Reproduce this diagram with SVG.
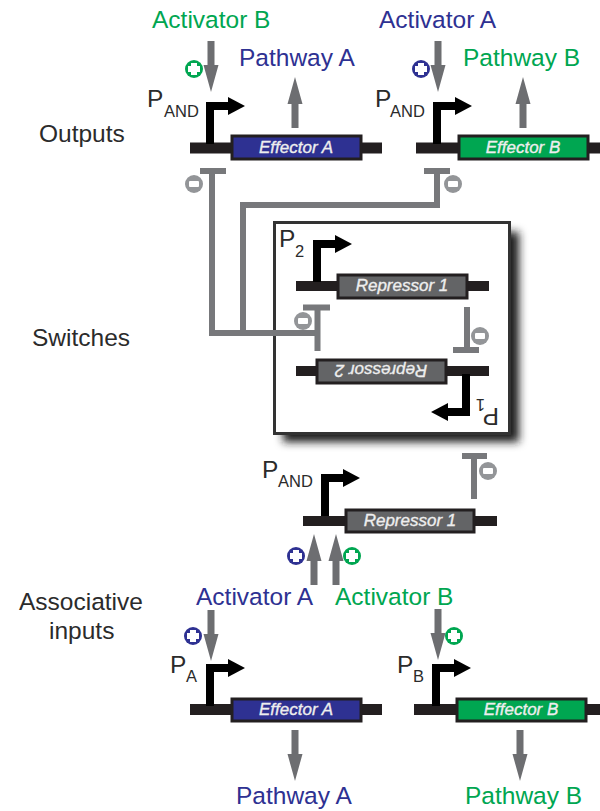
<svg xmlns="http://www.w3.org/2000/svg" width="600" height="811" viewBox="0 0 600 811">
<style>
text{font-family:"Liberation Sans",Arial,sans-serif}
.lab{font-size:24.500px;fill:#2b2b2b}
.sub{font-size:16.500px;fill:#2b2b2b}
.blue{font-size:24.500px;fill:#2e3192}
.green{font-size:24.500px;fill:#00a651}
.gt{font-size:17px;font-style:italic;fill:#eee;stroke:#eee;stroke-width:.35;text-anchor:middle}
.bb{fill:#231f20}
.b{fill:#2e3192;stroke:#231f20;stroke-width:3}
.g{fill:#00a651;stroke:#231f20;stroke-width:3}
.r{fill:#636466;stroke:#231f20;stroke-width:3}
.inh{fill:none;stroke:#77787b;stroke-width:6}
.arr{fill:#6d6e71}
.prom{fill:none;stroke:#000;stroke-width:8}
.fg{fill:#00a651}.fb{fill:#2e3192}
</style>
<defs>
<filter id="sh" x="-20%" y="-20%" width="140%" height="140%"><feGaussianBlur stdDeviation="4"/></filter>
<g id="promoter"><path class="prom" d="M0 0V-38H20"/><path d="M18-47L35-38L18-29Z" fill="#000"/></g>
<path id="down" class="arr" d="M-3.500 0H3.500V24H7.500L0 51L-7.500 24H-3.500Z"/>
<path id="plus" fill="#fff" d="M-3-6H3V-3H6V3H3V6H-3V3H-6V-3H-3Z"/>
<g id="minus"><circle r="9" fill="#939598"/><rect x="-5" y="-3" width="10" height="6" rx="1" fill="#fff"/></g>
</defs>
<g id="switch-box">
<rect x="283" y="232" width="236" height="210" fill="#1a1a1a" filter="url(#sh)"/>
<rect x="274.500" y="222.500" width="235" height="211" fill="#fff" stroke="#333" stroke-width="3"/>
</g>
<g id="connectors">
<path class="inh" d="M200 171H226M212 171V333H318M243 333V205H437V171M424 171H450"/>
<path class="inh" d="M303 307.500H330M317.500 308V351"/>
<path class="inh" d="M467 307V350M453 350H479"/>
<path class="inh" d="M462 456H487M474 456V499"/>
<use href="#down" transform="translate(211,41)"/>
<use href="#down" transform="translate(295,128) scale(1,-1)"/>
<use href="#down" transform="translate(438,41)"/>
<use href="#down" transform="translate(523,128) scale(1,-1)"/>
<use href="#down" transform="translate(314,585) scale(1,-1)"/>
<use href="#down" transform="translate(336,585) scale(1,-1)"/>
<use href="#down" transform="translate(211,610)"/>
<use href="#down" transform="translate(438,609)"/>
<use href="#down" transform="translate(295,730)"/>
<use href="#down" transform="translate(520,730)"/>
</g>
<g id="signs">
<circle class="fg" cx="194" cy="69" r="9"/><use href="#plus" x="194" y="69"/>
<circle class="fb" cx="421" cy="69" r="9"/><use href="#plus" x="421" y="69"/>
<circle class="fg" cx="352" cy="556" r="9"/><use href="#plus" x="352" y="556"/>
<circle class="fb" cx="296" cy="556" r="9"/><use href="#plus" x="296" y="556"/>
<circle class="fb" cx="193" cy="636" r="9"/><use href="#plus" x="193" y="636"/>
<circle class="fg" cx="454" cy="636" r="9"/><use href="#plus" x="454" y="636"/>
<use href="#minus" transform="translate(194,184)"/>
<use href="#minus" transform="translate(453,184)"/>
<use href="#minus" transform="translate(303,321)"/>
<use href="#minus" transform="translate(480,336)"/>
<use href="#minus" transform="translate(488,471)"/>
</g>
<g id="gene-top-a">
<rect class="bb" x="190" y="142.500" width="192" height="11"/>
<use href="#promoter" transform="translate(210,144)"/>
<rect class="b" x="232" y="136" width="129" height="23"/>
<text class="gt" x="296" y="153">Effector A</text>
</g>
<g id="gene-top-b">
<rect class="bb" x="416" y="142.500" width="184" height="11"/>
<use href="#promoter" transform="translate(437,144)"/>
<rect class="g" x="459" y="136" width="129" height="23"/>
<text class="gt" x="523" y="153">Effector B</text>
</g>
<g id="gene-rep1">
<rect class="bb" x="296" y="281" width="193" height="10"/>
<use href="#promoter" transform="translate(317,282)"/>
<rect class="r" x="338" y="275" width="129" height="23"/>
<text class="gt" x="402" y="291">Repressor 1</text>
</g>
<g id="gene-rep2">
<rect class="bb" x="296" y="366" width="193" height="10"/>
<use href="#promoter" transform="translate(466,374) rotate(180)"/>
<rect class="r" x="317" y="360" width="129" height="23"/>
<text class="gt" transform="translate(381,365) rotate(180)">Repressor 2</text>
</g>
<g id="gene-rep3">
<rect class="bb" x="303" y="516" width="194" height="10"/>
<use href="#promoter" transform="translate(325,516)"/>
<rect class="r" x="346" y="510" width="128" height="22"/>
<text class="gt" x="410" y="526">Repressor 1</text>
</g>
<g id="gene-input-a">
<rect class="bb" x="190" y="704" width="192" height="11"/>
<use href="#promoter" transform="translate(210,706)"/>
<rect class="b" x="232" y="699" width="129" height="22"/>
<text class="gt" x="296" y="715">Effector A</text>
</g>
<g id="gene-input-b">
<rect class="bb" x="414" y="704" width="186" height="11"/>
<use href="#promoter" transform="translate(436,706)"/>
<rect class="g" x="457" y="699" width="129" height="22"/>
<text class="gt" x="521" y="715">Effector B</text>
</g>
<g id="labels">
<text class="green" x="152" y="28">Activator B</text>
<text class="blue" x="379" y="28">Activator A</text>
<text class="blue" x="239" y="66">Pathway A</text>
<text class="green" x="463" y="66">Pathway B</text>
<text class="lab" x="147" y="107">P</text><text class="sub" x="164" y="117">AND</text>
<text class="lab" x="375" y="107">P</text><text class="sub" x="390" y="117">AND</text>
<text class="lab" x="39" y="142">Outputs</text>
<text class="lab" x="32" y="346">Switches</text>
<text class="lab" x="279" y="247">P</text><text class="sub" x="295" y="257">2</text>
<text class="lab" transform="translate(499,408) rotate(180)">P</text><text class="sub" transform="translate(485,399) rotate(180)">1</text>
<text class="lab" x="262" y="478">P</text><text class="sub" x="278" y="487">AND</text>
<text class="blue" x="196" y="605">Activator A</text>
<text class="green" x="335" y="605">Activator B</text>
<text class="lab" x="19" y="610">Associative</text>
<text class="lab" x="49" y="639">inputs</text>
<text class="lab" x="170" y="673">P</text><text class="sub" x="186" y="682">A</text>
<text class="lab" x="397" y="673">P</text><text class="sub" x="413" y="682">B</text>
<text class="blue" x="236" y="804">Pathway A</text>
<text class="green" x="465" y="804">Pathway B</text>
</g>
</svg>
